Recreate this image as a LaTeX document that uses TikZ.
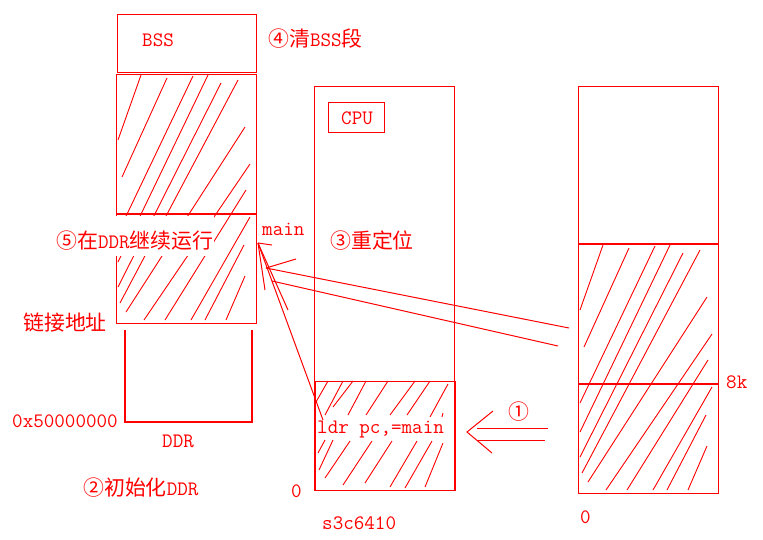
\documentclass[tikz,border=0pt]{standalone}
\usepackage{fontspec}
\newfontfamily\cjk{Noto Sans CJK SC}[Scale=1.02]
\tikzset{
  boxshape/.style={draw=red, line width=1.4pt, inner sep=0pt, anchor=north west},
  edgeline/.style={draw=red, line width=1.4pt},
  hatchline/.style={draw=red, line width=0.9pt},
  wire/.style={draw=red, line width=1pt},
  lbl/.style={text=red, inner sep=0pt, anchor=base west, font=\fontsize{20.5pt}{24pt}\selectfont\ttfamily},
}
\newcommand\memhatch{%
  \draw[hatchline]
    (141,75) -- (118,140)
    (167,78) -- (122,177)
    (193,76) -- (118,233)
    (208,75) -- (118,262)
    (221,83) -- (118,287)
    (238,80) -- (120,303)
    (245,127) -- (126,312)
    (250,164) -- (144,320)
    (246,190) -- (165,320)
    (250,217) -- (191,320)
    (244,245) -- (205,320)
    (245,276) -- (226,320);
}
\begin{document}
\begin{tikzpicture}[x=1pt,y=-1pt]
\useasboundingbox[fill=white] (0,0) rectangle (763,539);

% hatching
\memhatch
\begin{scope}[shift={(462,170)}]
  \memhatch
\end{scope}
\draw[hatchline]
  (328,381) -- (316,402)
  (343,381) -- (325,415)
  (353,381) -- (333,407)
  (366,381) -- (348,415)
  (388,381) -- (366,415)
  (415,381) -- (390,415)
  (430,381) -- (407,415)
  (448,384) -- (430,417)
  (443,413) -- (442,417)
  (325,440) -- (318,453)
  (333,440) -- (319,470)
  (350,441) -- (325,478)
  (372,441) -- (343,485)
  (392,441) -- (365,483)
  (417,441) -- (390,487)
  (432,441) -- (405,488)
  (443,443) -- (425,487);

% boxes
\node[boxshape, minimum width=139pt, minimum height=58pt] (bss) at (117,14) {};
\node[boxshape, minimum width=140pt, minimum height=249pt] (ddrmem) at (116,74) {};
\draw[edgeline] (116,214) -- (256,214);
\draw[edgeline] (125,330) -- (125,422) -- (252,422) -- (252,330);
\node[boxshape, minimum width=140pt, minimum height=404pt] (cpu) at (314,86) {};
\node[boxshape, minimum width=140pt, minimum height=109pt] (iram) at (315,381) {};
\node[boxshape, minimum width=56pt, minimum height=30pt] (cpulbl) at (328,102) {};
\node[boxshape, minimum width=140pt, minimum height=407pt] (rom) at (578,86) {};
\draw[edgeline] (578,244) -- (718,244);
\draw[edgeline] (578,384) -- (718,384);

% arrows to main
\coordinate (tip) at (258,243);
\coordinate (wingA) at (272,245);
\coordinate (wingB) at (265,290);
\coordinate (wingC) at (288,310);
\coordinate (ldrend) at (323,420);
\coordinate (dA1) at (266,268);
\coordinate (dA2) at (569,328);
\coordinate (dB1) at (272,281);
\coordinate (dB2) at (558,346);
\coordinate (wingD) at (296,259);
\draw[wire] (tip) -- (wingA);
\draw[wire] (tip) -- (wingB);
\draw[wire] (tip) -- (wingC);
\draw[wire] (tip) -- (ldrend);
\draw[wire] (dA1) -- (dA2);
\draw[wire] (dB1) -- (dB2);
\draw[wire] (dA1) -- (wingD);

% arrow 1
\coordinate (a1tip) at (467,432);
\coordinate (a1up) at (493,411);
\coordinate (a1dn) at (492,453);
\coordinate (a1l1) at (477,428);
\coordinate (a1r1) at (548,428);
\coordinate (a1l2) at (477,440);
\coordinate (a1r2) at (545,440);
\draw[wire] (a1up) -- (a1tip) -- (a1dn);
\draw[wire] (a1l1) -- (a1r1);
\draw[wire] (a1l2) -- (a1r2);

% labels
\node[lbl] (tbss) at (142,46) {BSS};
\node[lbl] (t4) at (268,46) {{\cjk ④清}BSS{\cjk 段}};
\node[lbl] (tcpu) at (341,124) {CPU};
\node[lbl] (tmain) at (262,235) {main};
\node[lbl, fill=white, inner xsep=1pt, text height=32pt, text depth=8pt] (t5) at (55,248) {{\cjk ⑤在}DDR{\cjk 继续运行}};
\node[lbl] (t3) at (330,248) {{\cjk ③重定位}};
\node[lbl] (tlink) at (23,330) {{\cjk 链接地址}};
\node[lbl] (taddr) at (12,427) {0x50000000};
\node[lbl] (tddr) at (162,447) {DDR};
\node[lbl] (t2) at (83,495) {{\cjk ②初始化}DDR};
\node[lbl] (tzero) at (291,497) {0};
\node[lbl] (tsoc) at (322,529) {s3c6410};
\node[lbl] (tldr) at (317,433) {ldr pc,=main};
\node[lbl] (t1) at (508,419) {{\cjk ①}};
\node[lbl] (t8k) at (726,388) {8k};
\node[lbl] (tzero2) at (580,523) {0};
\end{tikzpicture}
\end{document}
